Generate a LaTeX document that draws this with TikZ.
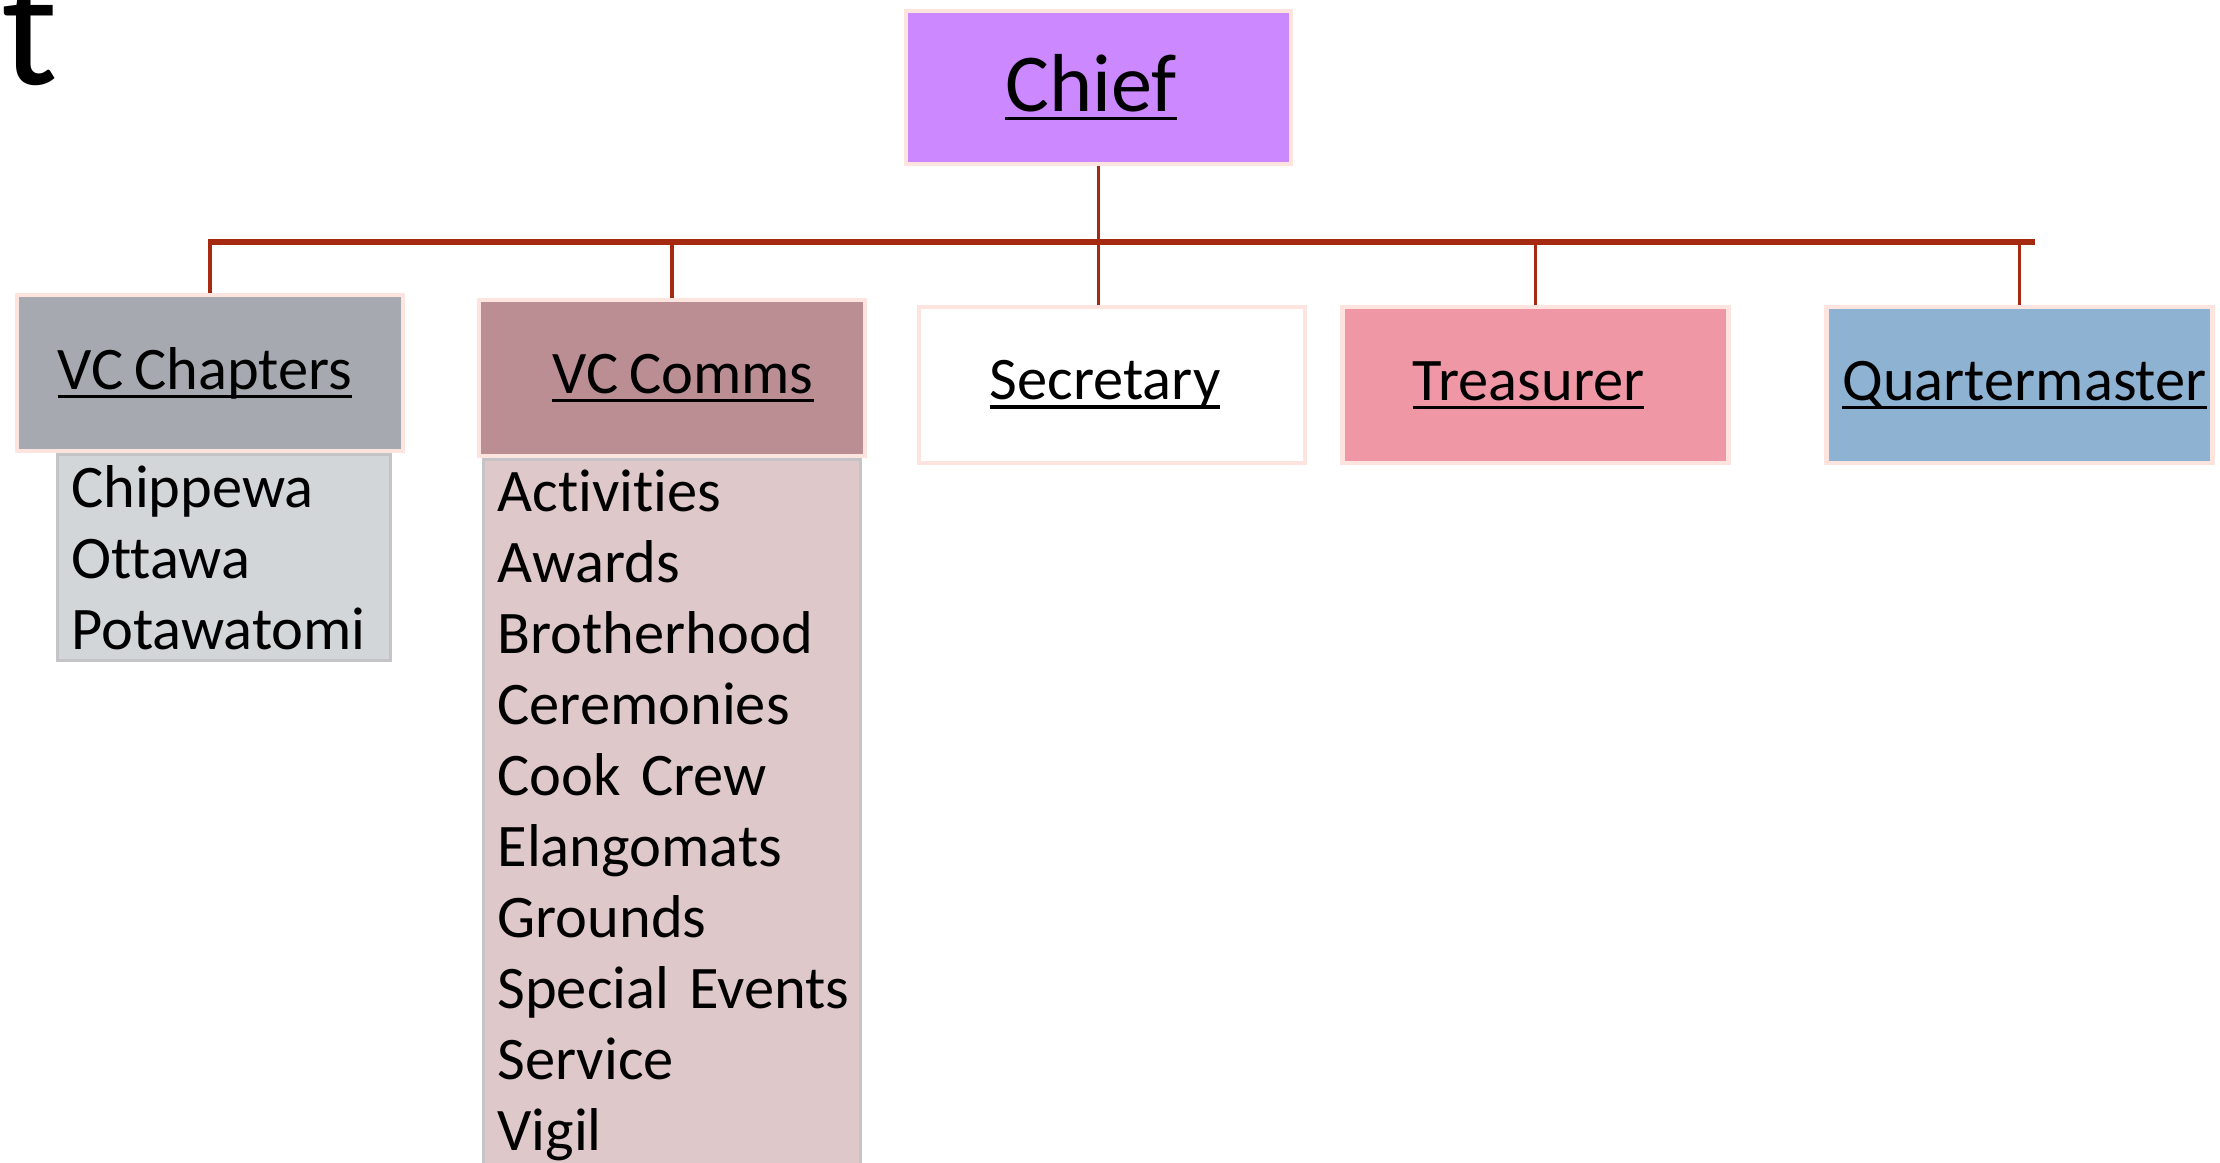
\documentclass[tikz,border=0pt]{standalone}
\usepackage{fontspec}
\setmainfont[Ligatures=NoCommon]{Carlito}
\usetikzlibrary{positioning}
\newcommand{\undln}[1]{\setbox0\hbox{#1}\rlap{\rule[-2.5pt]{\wd0}{0.9pt}}\box0}
\protected\def\listfont{\fontsize{17.2}{20.2}\selectfont\fontdimen2\font=0.18em\relax}
\definecolor{postedge}{RGB}{253,228,222}
\definecolor{linkred}{RGB}{166,42,18}
\definecolor{chieffill}{RGB}{204,136,255}
\definecolor{chapfill}{RGB}{166,170,176}
\definecolor{chaplight}{RGB}{211,214,217}
\definecolor{commsfill}{RGB}{187,142,148}
\definecolor{commslight}{RGB}{222,200,202}
\definecolor{treasfill}{RGB}{240,151,166}
\definecolor{qmfill}{RGB}{142,178,209}
\definecolor{listedge}{RGB}{196,196,198}
\tikzset{
  every picture/.style={
    line width=1pt
  },
  post/.style={draw=postedge, line width=1.3pt, minimum width=3.86cm,
    minimum height=1.56cm, inner sep=0pt, font=\listfont},
  sublist/.style={draw=listedge, line width=0.8pt, align=left, inner xsep=0.14cm,
    inner ysep=3pt, font=\listfont},
  link/.style={draw=linkred, line width=1pt},
  bus/.style={draw=linkred, line width=1.5pt}
}

\begin{document}
\begin{tikzpicture}
  \clip (0,0) rectangle (22.2,-11.62);
  \node[anchor=base west, inner sep=0pt, font=\fontsize{48}{48}\selectfont] (cut) at (0,-0.84) {t};

  \node[post, fill=chieffill, minimum width=3.85cm, minimum height=1.53cm,
    font=\fontsize{23.4}{26}\selectfont] (chief) at (10.985,-0.875) {\undln{Chief}\hspace*{0.15cm}};

  \node[post, fill=chapfill] (chap) at (2.10,-3.73) {\undln{VC Chapters}\hspace*{0.1cm}};
  \node[post, fill=commsfill] (comms) at (6.72,-3.78) {\hspace*{0.22cm}\undln{VC Comms}};
  \node[post, fill=white] (sec) at (11.12,-3.85) {\undln{Secretary}\hspace*{0.14cm}};
  \node[post, fill=treasfill] (treas) at (15.355,-3.85) {\undln{Treasurer}\hspace*{0.14cm}};
  \node[post, fill=qmfill] (qm) at (20.195,-3.85) {\hspace*{0.1cm}\undln{Quartermaster}};

  \node[sublist, fill=chaplight, text width=3.05cm,
    below right=0pt and 0.41cm of chap.south west] (chaplist)
    {Chippewa\\Ottawa\\Potawatomi};
  \node[sublist, fill=commslight, text width=3.49cm, below=0pt of comms] (commslist)
    {Activities\\Awards\\Brotherhood\\Ceremonies\\Cook Crew\\Elangomats\\Grounds\\Special~Events\\Service\\Vigil};

  % the bus between chief and the posts
  \coordinate (busL) at (2.08,-2.42);
  \coordinate (busR) at (20.35,-2.42);
  \draw[bus] (busL) -- (busR);
  \draw[link] (chief.south) -- (chief.south |- sec.north);
  \draw[link] (chap.north) -- (chap.north |- busL);
  \draw[link] (comms.north) -- (comms.north |- busL);
  \draw[link] (treas.north) -- (treas.north |- busL);
  \draw[link] (qm.north) -- (qm.north |- busL);
\end{tikzpicture}
\end{document}
